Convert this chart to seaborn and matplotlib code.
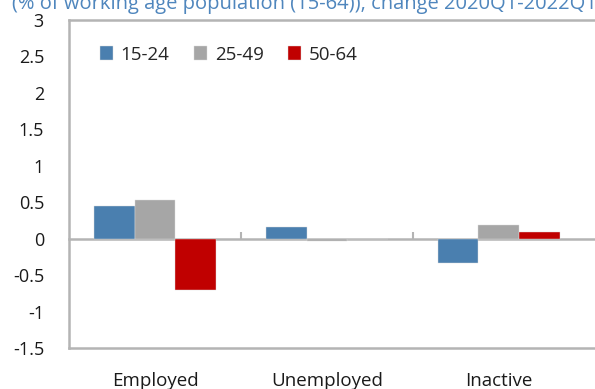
import numpy as np
import pandas as pd
import matplotlib.pyplot as plt
import seaborn as sns

categories = ["Employed", "Unemployed", "Inactive"]
groups = ["15-24", "25-49", "50-64"]
val_15_24 = [0.45, 0.16, -0.33]
val_25_49 = [0.53, -0.03, 0.19]
val_50_64 = [-0.71, 0.0, 0.09]
colors = ["#4A7FAF", "#A6A6A6", "#C00000"]

df = pd.DataFrame({
    "status": categories * 3,
    "age": [g for g in groups for _ in categories],
    "change": val_15_24 + val_25_49 + val_50_64,
})

sns.set_style("white")
plt.rcParams['font.family'] = ['Open Sans', 'DejaVu Sans']

fig = plt.figure(figsize=(5.95, 3.89), dpi=100)
ax = fig.add_axes([69/595, 1 - 348/389, 1 - 69/595, (348 - 20)/389])

sns.barplot(data=df, x="status", y="change", hue="age", order=categories,
            hue_order=groups, palette=colors, width=0.71, ax=ax,
            edgecolor="#dddddd", linewidth=0.3, saturation=1)

grey = "#B4B4B4"
ax.set_ylim(-1.5, 3)
ax.set_yticks(np.arange(-1.5, 3.01, 0.5))
ax.set_yticklabels([f"{v:g}" for v in np.arange(-1.5, 3.01, 0.5)])
ax.set_xlim(-0.5, 2.56)
ax.set_xlabel("")
ax.set_ylabel("")
for side in ["left", "top", "bottom"]:
    ax.spines[side].set_color(grey)
    ax.spines[side].set_linewidth(1.8)
ax.spines["right"].set_visible(False)
ax.tick_params(axis="y", direction="in", length=5, width=1.5, color=grey,
               labelsize=13, pad=18, labelcolor="#1a1a1a")
ax.tick_params(axis="x", length=0, labelsize=13.5, pad=17, labelcolor="#1a1a1a")

# category axis at zero
zero = ax.secondary_xaxis(1.5 / 4.5)
zero.set_xticks([0.5, 1.5])
zero.set_xticklabels([])
zero.spines["bottom"].set_color(grey)
zero.spines["bottom"].set_linewidth(1.8)
zero.tick_params(direction="in", length=5, width=1.5, color=grey)

ax.legend(loc="upper left", bbox_to_anchor=(0.045, 0.945), ncol=3, frameon=False,
          fontsize=13.5, handlelength=0.7, handleheight=0.7, handletextpad=0.4,
          columnspacing=1.3, borderaxespad=0)

fig.text(12/595, 1 - 9/389, "(% of working age population (15-64)), change 2020Q1-2022Q1 (",
         color="#4F86BD", fontsize=14.5, va="baseline", ha="left")

plt.savefig("out.png", dpi=100)
